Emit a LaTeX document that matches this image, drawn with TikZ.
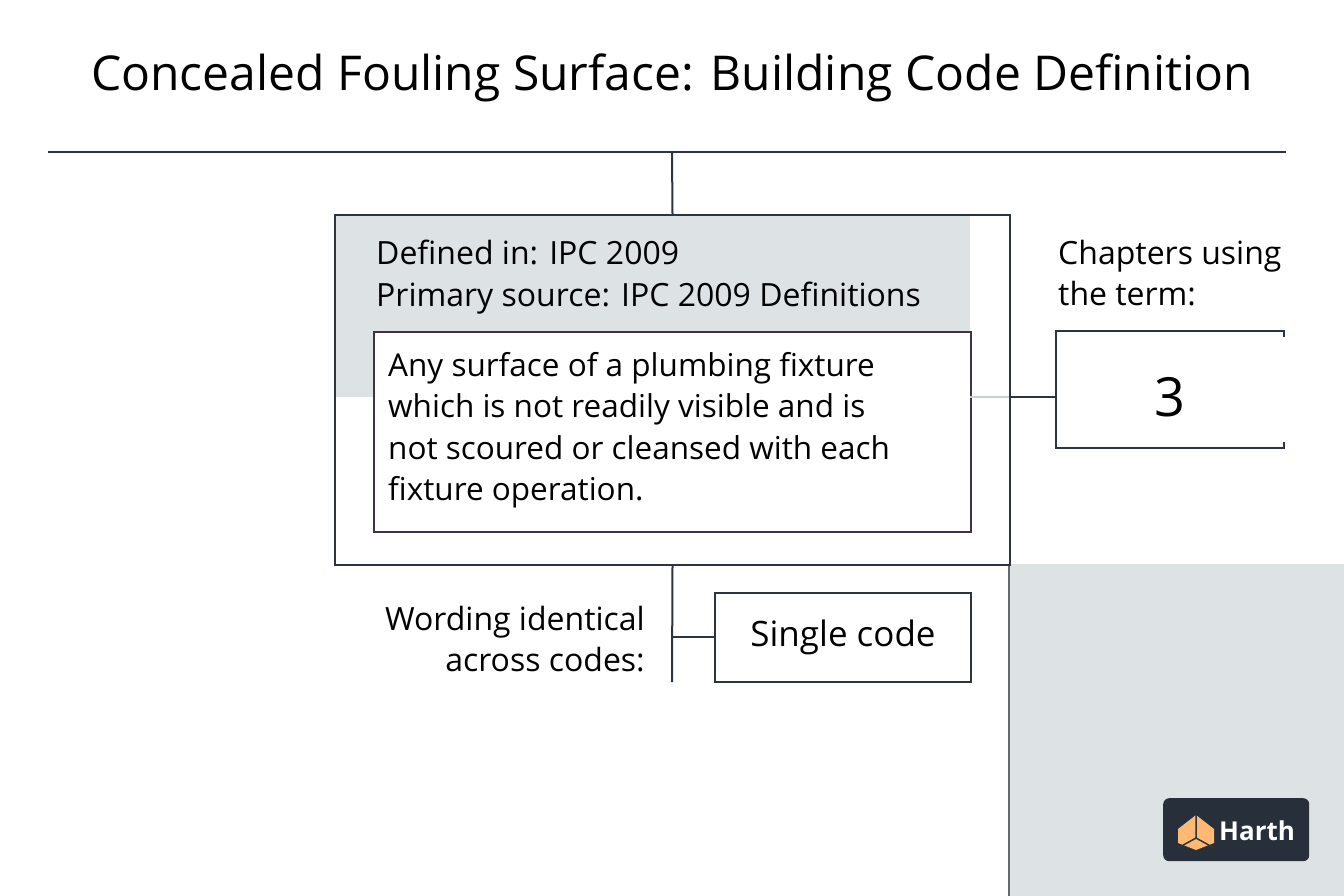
\documentclass[tikz,border=0pt]{standalone}
\usepackage{fontspec}
\setmainfont{Open Sans}
\begin{document}
\begin{tikzpicture}[x=1pt,y=-1pt,
  ln/.style={draw=linec,line width=2pt},
  txt/.style={font=\fontsize{32}{36}\selectfont,text=black,inner sep=0pt}]
\definecolor{linec}{HTML}{2B3540}
\definecolor{shadec}{HTML}{DDE3E5}
\definecolor{boxc}{HTML}{3E3445}
\useasboundingbox (0,0) rectangle (1344,896);
\fill[white] (0,0) rectangle (1344,896);
\fill[shadec] (1009,564) rectangle (1344,896);
\draw[draw=gray!70!linec,line width=1.5pt] (1009,564) -- (1009,896);
\node[inner sep=0pt,font=\fontsize{48}{52}\selectfont] (title) at (672,78) {Concealed Fouling Surface: Building Code Definition};
\coordinate (tl) at (48,152); \coordinate (tr) at (1286,152); \coordinate (tm) at (672,152);
\draw[ln] (tl) -- (tr);
\fill[shadec] (334,214) rectangle (970,397);
\node[draw=linec,line width=2pt,minimum width=675pt,minimum height=350pt,anchor=north west] (outer) at (334,214) {};
\draw[ln] (tm) -- (outer.north);
\node[txt,anchor=base west,align=left] (def) at (376,264) {Defined in: IPC 2009};
\node[txt,anchor=base west,align=left] (src) at (376,306) {Primary source: IPC 2009 Definitions};
\node[draw=boxc,fill=white,line width=2pt,minimum width=597pt,minimum height=200pt,anchor=north west] (inner) at (373,331) {};
\node[txt,anchor=north west,align=left,font=\fontsize{31.5}{41.5}\selectfont] (deftext) at (388,352) {Any surface of a plumbing fixture\\which is not readily visible and is\\not scoured or cleansed with each\\fixture operation.};
\draw[shadec!80!gray,line width=2pt] (970,397) -- (1009,397);
\node[txt,anchor=base west,align=left] (chap1) at (1058,264) {Chapters using};
\node[txt,anchor=base west,align=left] (chap2) at (1058,305) {the term:};
\node[minimum width=228pt,minimum height=117pt,anchor=west,inner sep=0pt,font=\fontsize{54}{58}\selectfont] (three) at (1056,397) {3};
\draw[ln] (1284,337) -- (1284,331) -- (1056,331) -- (1056,448) -- (1284,448) -- (1284,442);
\draw[ln] (1009,397) -- (three.west);
\coordinate (vb) at (672,682);
\draw[ln] (outer.south) -- (vb);
\node[draw=linec,line width=2pt,minimum width=256pt,minimum height=89pt,anchor=west,txt,font=\fontsize{35}{38}\selectfont] (single) at (714,637) {Single code};
\coordinate (sj) at (672,637);
\draw[ln] (sj) -- (single.west);
\node[txt,anchor=base east,align=right] (w1) at (645,630) {Wording identical};
\node[txt,anchor=base east,align=right] (w2) at (645,671) {across codes:};
\node[fill=linec!90!black,rounded corners=6pt,minimum width=146pt,minimum height=63pt,anchor=north west] (logo) at (1163,798) {};
\fill[orange!50!white!90!orange] (1178,829) -- (1196,815) -- (1214,829) -- (1214,843) -- (1196,850) -- (1178,843) -- cycle;
\draw[linec,line width=1.5pt] (1196,815) -- (1196,838) -- (1178,848) (1196,838) -- (1214,848);
\node[text=white,font=\bfseries\fontsize{26}{28}\selectfont,anchor=west,inner sep=0pt] (harth) at (1219,831) {Harth};
\end{tikzpicture}
\end{document}
